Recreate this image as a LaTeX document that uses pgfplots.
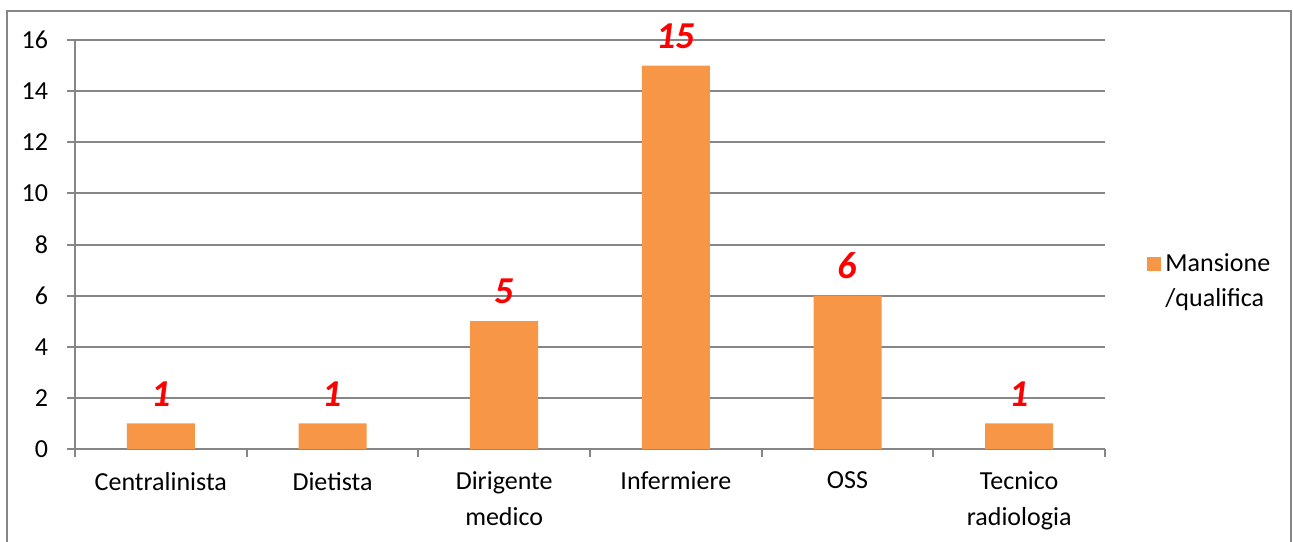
\documentclass[border=0pt]{standalone}
\usepackage{pgfplots}
\pgfplotsset{compat=1.18}
\usepackage{fontspec}
\setmainfont{Carlito}
\definecolor{barorange}{HTML}{F79646}
\definecolor{axgray}{HTML}{868686}
\begin{document}
\begin{tikzpicture}
\useasboundingbox (0,0) rectangle (646.5pt,270.5pt);
\draw[axgray, line width=1pt] (3.5pt,-2pt) -- (3.5pt,265pt) -- (645.5pt,265pt) -- (645.5pt,-2pt);
\begin{axis}[
  at={(37.5pt,46pt)}, anchor=south west,
  scale only axis, width=515pt, height=204.5pt,
  xmin=-0.5, xmax=5.5, ymin=0, ymax=16,
  ytick={0,2,...,16},
  xtick={0,...,5},
  xticklabels={Centralinista,Dietista,{Dirigente\\medico},Infermiere,OSS,{Tecnico\\radiologia}},
  major x tick style={draw=none},
  minor xtick={-0.5,0.5,...,5.5},
  minor tick length=4pt,
  major tick length=4pt,
  tick align=outside,
  axis x line*=bottom, axis y line*=left,
  axis line style={axgray, line width=1pt},
  every tick/.style={axgray, line width=1pt},
  minor x tick style={axgray, line width=1pt},
  ymajorgrids, grid style={axgray, line width=1pt},
  tick label style={font=\fontsize{13}{18}\selectfont, text=black},
  xticklabel style={align=center, yshift=-4pt, anchor=north},
  yticklabel style={xshift=-6pt},
  /pgf/number format/assume math mode=true,
  ybar, bar width=34pt,
  nodes near coords,
  every node near coord/.append style={font=\fontsize{19}{22}\selectfont\bfseries\itshape, text=red, yshift=5pt},
  legend style={draw=none, at={(1.035,0.41)}, anchor=west, font=\fontsize{13}{15.5}\selectfont, row sep=3pt, legend cell align=left},
  legend image code/.code={\fill[barorange] (0pt,-3.5pt) rectangle (7pt,3.5pt);},
]
\addplot[fill=barorange, draw=none] coordinates {(0,1) (1,1) (2,5) (3,15) (4,6) (5,1)};
\addlegendentry{Mansione}
\addlegendimage{empty legend}
\addlegendentry{/qualifica}
\end{axis}
\end{tikzpicture}
\end{document}
